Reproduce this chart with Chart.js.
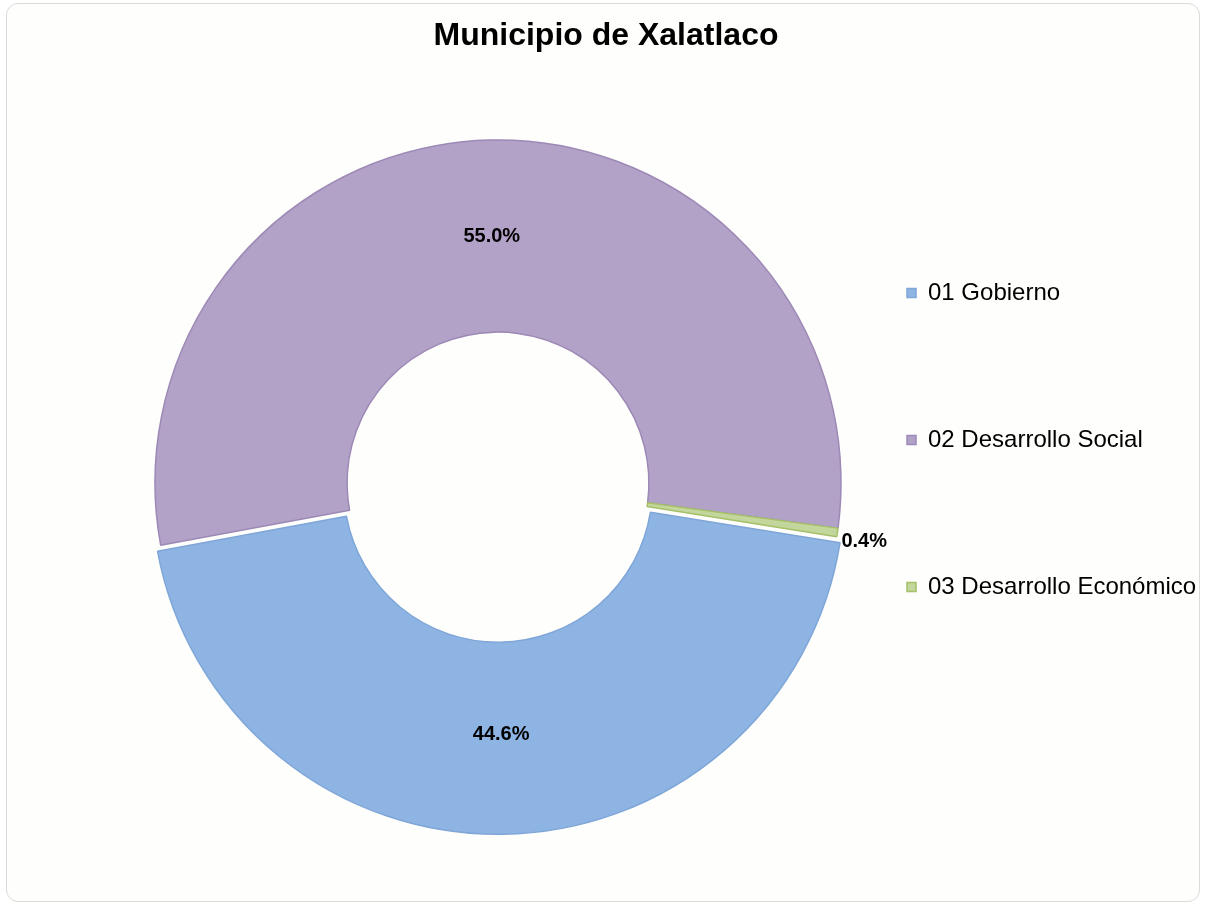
<!DOCTYPE html>
<html><head><meta charset="utf-8">
<script src="https://cdn.jsdelivr.net/npm/chart.js@4.4.1/dist/chart.umd.min.js"></script>
<style>
html,body{margin:0;padding:0;background:#ffffff;width:1206px;height:905px;overflow:hidden;}
#frame{position:absolute;left:6px;top:3px;width:1192px;height:897px;border:1px solid #dadad6;border-radius:12px;background:#fefefc;}
#c{position:absolute;left:0;top:0;}
</style></head><body>
<div id="frame"></div>
<canvas id="c" width="1206" height="905"></canvas>
<script>
const chartTitle = 'Municipio de Xalatlaco';
const categories = ['01 Gobierno', '02 Desarrollo Social', '03 Desarrollo Económico'];
const shares = [44.6, 55.0, 0.4];
const fillColors = ['#8EB4E3', '#B3A2C7', '#C3D69B'];
const edgeColors = ['#7FA6D8', '#9C89B6', '#A5C068'];
const explode = [20, 0, 0];
const labelOutside = [false, false, true];

Chart.defaults.font.family = '"Liberation Sans", Arial, sans-serif';

const sliceLabels = {
  id: 'sliceLabels',
  afterDatasetsDraw(chart) {
    const ctx = chart.ctx;
    const meta = chart.getDatasetMeta(0);
    ctx.save();
    ctx.font = 'bold 20px "Liberation Sans", Arial, sans-serif';
    ctx.fillStyle = '#000000';
    ctx.textBaseline = 'middle';
    meta.data.forEach((arc, i) => {
      const p = arc.getProps(['x', 'y', 'startAngle', 'endAngle', 'innerRadius', 'outerRadius'], true);
      const mid = (p.startAngle + p.endAngle) / 2;
      const off = (arc.options.offset || 0) / 4;
      const text = shares[i].toFixed(1) + '%';
      if (labelOutside[i]) {
        const r = p.outerRadius + 4;
        ctx.textAlign = 'left';
        ctx.fillText(text, p.x + Math.cos(mid) * r, p.y + Math.sin(mid) * r + 9);
      } else {
        const r = (p.innerRadius + p.outerRadius) / 2 + off;
        ctx.textAlign = 'center';
        ctx.fillText(text, p.x + Math.cos(mid) * r, p.y + Math.sin(mid) * r);
      }
    });
    ctx.restore();
  }
};

new Chart(document.getElementById('c'), {
  type: 'doughnut',
  data: {
    labels: categories,
    datasets: [{
      data: shares,
      backgroundColor: fillColors,
      borderColor: edgeColors,
      borderWidth: 1.5,
      offset: explode,
      hoverOffset: 0,
      clip: false
    }]
  },
  options: {
    responsive: false,
    animation: false,
    rotation: 99,
    cutout: '44%',
    radius: 343,
    layout: { padding: { left: 6, right: 0, top: 0, bottom: 0 } },
    plugins: {
      title: {
        display: true,
        text: chartTitle,
        color: '#000000',
        font: { size: 32, weight: 'bold' },
        padding: { top: 17, bottom: 5.6 }
      },
      subtitle: {
        display: true,
        position: 'left',
        fullSize: false,
        text: ' ',
        font: { size: 2 },
        padding: { top: 0, bottom: 81.6 }
      },
      legend: {
        position: 'right',
        align: 'center',
        title: { display: true, text: ' ', font: { size: 10 }, padding: { top: 85, bottom: 0 } },
        labels: {
          boxWidth: 9,
          boxHeight: 9,
          padding: 1,
          color: '#000000',
          font: { size: 24, lineHeight: '146px' },
          generateLabels(chart) {
            const items = Chart.overrides.doughnut.plugins.legend.labels.generateLabels(chart);
            items.forEach(it => { it.text = [it.text]; });
            return items;
          }
        }
      },
      tooltip: { enabled: false }
    }
  },
  plugins: [sliceLabels]
});
</script>
</body></html>
